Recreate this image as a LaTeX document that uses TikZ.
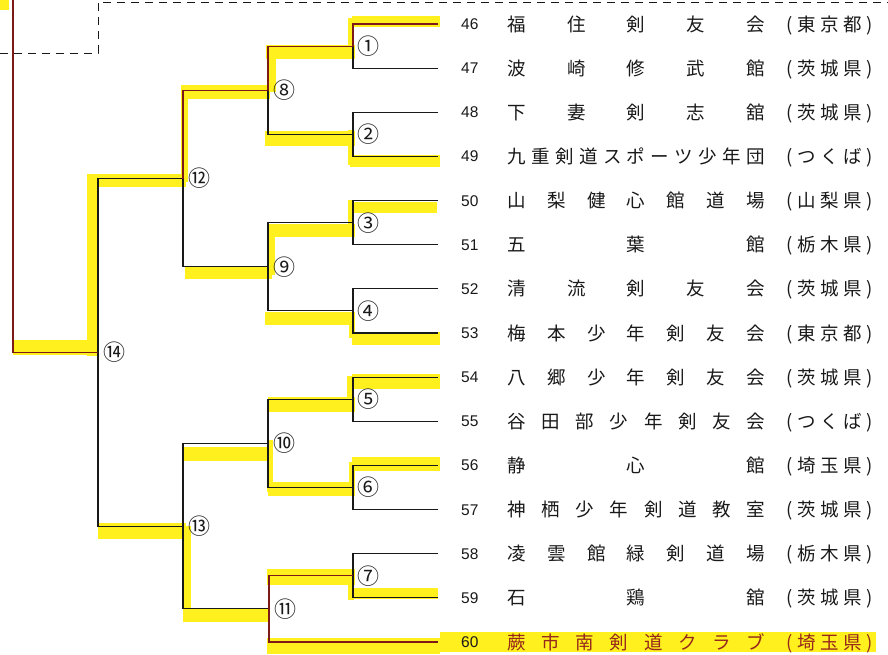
\documentclass[tikz,border=0pt]{standalone}
\usepackage{fontspec}
\newfontfamily\jpfont{Noto Sans CJK JP}
\newfontfamily\numfont{Liberation Sans}
\definecolor{hly}{RGB}{255,240,30}
\definecolor{wred}{RGB}{125,25,22}
\definecolor{ink}{RGB}{25,25,25}
\definecolor{redtxt}{RGB}{150,40,28}
\newcommand\spreadA[1]{\ifx\relax#1\else#1\expandafter\spreadB\fi}
\newcommand\spreadB[1]{\ifx\relax#1\else\hfill#1\expandafter\spreadB\fi}
\newcommand\spreadit[1]{\expandafter\spreadA#1\relax}
\tikzset{
  brk/.style={draw=ink, line width=1.1pt},
  wline/.style={draw=wred, line width=1.1pt},
  hl/.style={draw=hly, line width=#1, line cap=butt},
  hl/.default=12pt,
  dsh/.style={draw=ink, line width=1pt, dash pattern=on 8pt off 6pt},
  numlbl/.style={inner sep=0pt, anchor=base west, font=\numfont\fontsize{15.5}{16}\selectfont, text=ink},
  namelbl/.style={inner sep=0pt, anchor=base west, font=\jpfont\fontsize{18.5}{19}\selectfont, text=ink},
  mlbl/.style={inner sep=0pt, anchor=center, font=\jpfont\fontsize{22}{22}\selectfont, text=ink},
}
\begin{document}
\begin{tikzpicture}[x=1pt,y=-1pt]
\useasboundingbox (0,0) rectangle (888,654);
% ---------- highlights ----------
\draw[hl=10pt] (0,5) -- (9,5);
\draw[hl=11pt] (352,21) -- (440,21);
\draw[hl=6pt] (351,18) -- (351,58);
\draw[hl=14pt] (266,52) -- (355,52);
\draw[hl=7pt] (272,48) -- (272,92);
\draw[hl=14pt] (181,92) -- (270,92);
\draw[hl=7pt] (184,90) -- (184,182);
\draw[hl=15pt] (265,138) -- (355,138);
\draw[hl=6pt] (351,130) -- (351,165);
\draw[hl=12pt] (350,161) -- (440,161);
\draw[hl=13pt] (90,180) -- (186,180);
\draw[hl=12pt] (93,174) -- (93,356);
\draw[hl=11pt] (352,207) -- (437,207);
\draw[hl=6pt] (351,200) -- (351,232);
\draw[hl=13pt] (268,230) -- (355,230);
\draw[hl=7pt] (271,224) -- (271,275);
\draw[hl=12pt] (185,273) -- (272,273);
\draw[hl=13pt] (265,318) -- (355,318);
\draw[hl=6pt] (352,312) -- (352,338);
\draw[hl=13pt] (352,338) -- (440,338);
\draw[hl=15pt] (13,347) -- (99,347);
\draw[hl=15pt] (352,381) -- (440,381);
\draw[hl=6pt] (350,376) -- (350,406);
\draw[hl=15pt] (268,404) -- (355,404);
\draw[hl=6pt] (270,440) -- (270,492);
\draw[hl=14pt] (268,489) -- (355,489);
\draw[hl=6pt] (352,462) -- (352,494);
\draw[hl=14pt] (352,464) -- (440,464);
\draw[hl=14pt] (183,454) -- (270,454);
\draw[hl=16pt] (98,531) -- (186,531);
\draw[hl=8pt] (187,526) -- (187,622);
\draw[hl=14pt] (183,615) -- (270,615);
\draw[hl=16pt] (267,577) -- (355,577);
\draw[hl=6pt] (351,574) -- (351,600);
\draw[hl=11pt] (350,593) -- (438,593);
\draw[hl=16pt] (267,646) -- (440,646);
\draw[hl=20pt] (440,642) -- (876,642);
% ---------- coordinates ----------
\foreach \i in {46,...,60} \coordinate (r\i) at (438,{24+(\i-46)*44.143});
\coordinate (m1) at (353,46.07);
\coordinate (m2) at (353,134.36);
\coordinate (m3) at (353,222.64);
\coordinate (m4) at (353,310.93);
\coordinate (m5) at (353,399.21);
\coordinate (m6) at (353,487.5);
\coordinate (m7) at (353,575.79);
\coordinate (m8) at (268,90.21);
\coordinate (m9) at (268,266.79);
\coordinate (m10) at (268,443.36);
\coordinate (m11) at (269,608.89);
\coordinate (m12) at (183,178.5);
\coordinate (m13) at (183,526.13);
\coordinate (m14) at (98,352.3);
\coordinate (fin) at (13,352.3);
\coordinate (fintop) at (13,0);
\coordinate (d1) at (0,53);
\coordinate (d2) at (98,53);
\coordinate (d3) at (98,2);
\coordinate (d4) at (888,2);
% ---------- bracket ----------
\draw[brk] (r46) -| (m1) |- (r47);
\draw[brk] (r48) -| (m2) |- (r49);
\draw[brk] (r50) -| (m3) |- (r51);
\draw[brk] (r52) -| (m4) |- (r53);
\draw[brk] (r54) -| (m5) |- (r55);
\draw[brk] (r56) -| (m6) |- (r57);
\draw[brk] (r58) -| (m7) |- (r59);
\draw[brk] (m1) -| (m8) |- (m2);
\draw[brk] (m3) -| (m9) |- (m4);
\draw[brk] (m5) -| (m10) |- (m6);
\draw[brk] (m7) -| (m11) |- (r60);
\draw[brk] (m8) -| (m12) |- (m9);
\draw[brk] (m10) -| (m13) |- (m11);
\draw[brk] (m12) -| (m14) |- (m13);
\draw[wline] (r46) -| (m1) -| (m8) -| (m12);
\draw[wline] (m7) -| (m11) |- (r60);
\draw[wline] (m14) -- (fin) -- (fintop);
\draw[dsh] (d1) -- (d2) -- (d3) -- (d4);
% ---------- match labels ----------
\node[mlbl] (c1) at (368,46.07) {①};
\node[mlbl] (c2) at (368,134.36) {②};
\node[mlbl] (c3) at (368,222.64) {③};
\node[mlbl] (c4) at (368,310.93) {④};
\node[mlbl] (c5) at (368,399.21) {⑤};
\node[mlbl] (c6) at (368,487.5) {⑥};
\node[mlbl] (c7) at (368,575.79) {⑦};
\node[mlbl] (c8) at (284,90.21) {⑧};
\node[mlbl] (c9) at (284,266.79) {⑨};
\node[mlbl] (c10) at (284,443.36) {⑩};
\node[mlbl] (c11) at (285,608.89) {⑪};
\node[mlbl] (c12) at (199,178.5) {⑫};
\node[mlbl] (c13) at (199,526.13) {⑬};
\node[mlbl] (c14) at (114,352.3) {⑭};
% ---------- teams ----------
\foreach \i/\nm/\pf in {46/福住剣友会/東京都, 47/波崎修武館/茨城県, 48/下妻剣志舘/茨城県,
  49/九重剣道スポーツ少年団/つくば, 50/山梨健心館道場/山梨県, 51/五葉館/栃木県,
  52/清流剣友会/茨城県, 53/梅本少年剣友会/東京都, 54/八郷少年剣友会/茨城県,
  55/谷田部少年剣友会/つくば, 56/静心館/埼玉県, 57/神栖少年剣道教室/茨城県,
  58/凌雲館緑剣道場/栃木県, 59/石鶏舘/茨城県}{
  \node[numlbl] (n\i) at (461,{24+(\i-46)*44.143+5.5}) {\i};
  \node[namelbl] (t\i) at (507,{24+(\i-46)*44.143+7}) {\hbox to 258pt{\spreadit{\nm}}};
  \node[namelbl] (p\i) at (786,{24+(\i-46)*44.143+7}) {\hbox to 87pt{(\hfill\spreadit{\pf}\hfill)}};
}
\node[numlbl] (n60) at (461,647.5) {60};
\node[namelbl, text=redtxt] (t60) at (507,649) {\hbox to 258pt{\spreadA 蕨市南剣道クラブ\relax}};
\node[namelbl, text=redtxt] (p60) at (786,649) {\hbox to 87pt{(\hfill\spreadA 埼玉県\relax\hfill)}};
\end{tikzpicture}
\end{document}
